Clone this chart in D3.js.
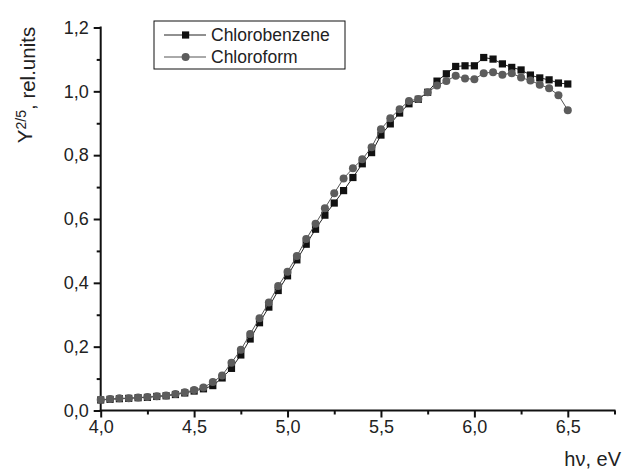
<!DOCTYPE html>
<html>
<head>
<meta charset="utf-8">
<script src="https://cdn.jsdelivr.net/npm/d3@7"></script>
<style>
  body { margin: 0; background: #fff; }
</style>
</head>
<body>
<div id="chart"></div>
<script>
// photon energy, eV
let energy = [
  4.00, 4.05, 4.10, 4.15, 4.20, 4.25, 4.30, 4.35, 4.40, 4.45,
  4.50, 4.55, 4.60, 4.65, 4.70, 4.75, 4.80, 4.85, 4.90, 4.95,
  5.00, 5.05, 5.10, 5.15, 5.20, 5.25, 5.30, 5.35, 5.40, 5.45,
  5.50, 5.55, 5.60, 5.65, 5.70, 5.75, 5.80, 5.85, 5.90, 5.95,
  6.00, 6.05, 6.10, 6.15, 6.20, 6.25, 6.30, 6.35, 6.40, 6.45,
  6.50
];

let chlorobenzene = [
  0.033, 0.035, 0.037, 0.038, 0.040, 0.041, 0.044, 0.046, 0.050, 0.055,
  0.061, 0.068, 0.078, 0.102, 0.132, 0.174, 0.224, 0.275, 0.324, 0.376,
  0.422, 0.472, 0.521, 0.568, 0.612, 0.650, 0.689, 0.730, 0.773, 0.808,
  0.863, 0.898, 0.932, 0.961, 0.975, 0.997, 1.032, 1.055, 1.078, 1.080,
  1.080, 1.106, 1.101, 1.086, 1.075, 1.067, 1.051, 1.042, 1.036, 1.026,
  1.023
];

let chloroform = [
  0.034, 0.036, 0.038, 0.038, 0.041, 0.042, 0.045, 0.047, 0.052, 0.057,
  0.064, 0.072, 0.089, 0.110, 0.150, 0.190, 0.240, 0.289, 0.338, 0.390,
  0.435, 0.484, 0.537, 0.585, 0.634, 0.681, 0.727, 0.759, 0.787, 0.825,
  0.881, 0.916, 0.944, 0.970, 0.976, 0.997, 1.018, 1.032, 1.049, 1.040,
  1.038, 1.057, 1.060, 1.052, 1.057, 1.043, 1.034, 1.021, 1.010, 0.988,
  0.941
];

let xTicks = [4.0, 4.5, 5.0, 5.5, 6.0, 6.5];
let xMinor = [4.25, 4.75, 5.25, 5.75, 6.25, 6.75];
let yTicks = [0.0, 0.2, 0.4, 0.6, 0.8, 1.0, 1.2];
let yMinor = [0.1, 0.3, 0.5, 0.7, 0.9, 1.1];

let seriesNames = ['Chlorobenzene', 'Chloroform'];

let width = 632,
  height = 471;

let font = '"Liberation Sans", Arial, sans-serif';

// comma as decimal separator
let fmt = d3.formatLocale({decimal: ',', thousands: ' ', grouping: [3], currency: ['', '']}).format('.1f');

let x = d3.scaleLinear().domain([4, 6.75]).range([100.7, 614.5]);
let y = d3.scaleLinear().domain([0, 1.2]).range([410.5, 27.5]);

function chart() {
  const svg = d3.select('#chart').append('svg')
    .attr('width', width)
    .attr('height', height)
    .style('font-family', font);

  // axes
  const gx = svg.append('g').attr('transform', `translate(0,${y(0)})`);
  gx.call(d3.axisBottom(x).tickValues(xTicks).tickFormat(fmt).tickSize(7).tickSizeOuter(0).tickPadding(3));
  gx.append('g').call(d3.axisBottom(x).tickValues(xMinor).tickFormat('').tickSize(4).tickSizeOuter(0))
    .select('.domain').remove();

  const gy = svg.append('g').attr('transform', `translate(${x(4)},0)`);
  gy.call(d3.axisLeft(y).tickValues(yTicks).tickFormat(fmt).tickSize(7).tickSizeOuter(0).tickPadding(5));
  gy.append('g').call(d3.axisLeft(y).tickValues(yMinor).tickFormat('').tickSize(4).tickSizeOuter(0))
    .select('.domain').remove();

  svg.selectAll('.domain, .tick line').attr('stroke', '#111').attr('stroke-width', 2);
  svg.selectAll('.tick text')
    .attr('fill', '#222')
    .style('font-size', '18px')
    .style('font-family', font);
  // close the corner
  gx.select('.domain').attr('d', `M${x(4) - 1},0H${x(6.75) + 1}`);
  gy.select('.domain').attr('d', `M0,${y(0) + 1}V${y(1.2) - 1}`);

  // axis titles
  svg.append('text')
    .attr('x', 621)
    .attr('y', 466)
    .attr('text-anchor', 'end')
    .attr('fill', '#222')
    .style('font-size', '20px')
    .text('h\u03bd, eV');

  const yl = svg.append('text')
    .attr('transform', 'translate(32,85) rotate(-90)')
    .attr('text-anchor', 'middle')
    .attr('fill', '#222')
    .style('font-size', '20.5px');
  yl.append('tspan').text('Y');
  yl.append('tspan').attr('dy', '-0.45em').style('font-size', '14px').text('2/5');
  yl.append('tspan').attr('dy', '0.45em').text(', rel.units');

  // series
  const pts = s => energy.map((e, i) => [e, s[i]]);
  const line = d3.line().x(d => x(d[0])).y(d => y(d[1]));

  svg.append('path')
    .datum(pts(chlorobenzene))
    .attr('fill', 'none')
    .attr('stroke', '#222')
    .attr('stroke-width', 1)
    .attr('d', line);

  svg.append('g').selectAll('rect')
    .data(pts(chlorobenzene))
    .enter().append('rect')
      .attr('x', d => x(d[0]) - 3.6)
      .attr('y', d => y(d[1]) - 3.6)
      .attr('width', 7.2)
      .attr('height', 7.2)
      .attr('fill', '#111');

  svg.append('path')
    .datum(pts(chloroform))
    .attr('fill', 'none')
    .attr('stroke', '#555')
    .attr('stroke-width', 1)
    .attr('d', line);

  svg.append('g').selectAll('circle')
    .data(pts(chloroform))
    .enter().append('circle')
      .attr('cx', d => x(d[0]))
      .attr('cy', d => y(d[1]))
      .attr('r', 4)
      .attr('fill', '#5c5c5c');

  // legend
  const lg = svg.append('g').attr('transform', 'translate(154,21)');
  lg.append('rect')
    .attr('width', 191)
    .attr('height', 48)
    .attr('fill', '#fff')
    .attr('stroke', '#111')
    .attr('stroke-width', 1);

  const item = lg.selectAll('g.item')
    .data(seriesNames)
    .enter().append('g')
      .attr('class', 'item')
      .attr('transform', (d, i) => `translate(0,${14 + i * 22})`);

  item.append('line')
    .attr('x1', 10).attr('x2', 52)
    .attr('stroke', (d, i) => i ? '#555' : '#222')
    .attr('stroke-width', 1);

  item.filter((d, i) => i === 0).append('rect')
    .attr('x', 28).attr('y', -3.6).attr('width', 7.2).attr('height', 7.2)
    .attr('fill', '#111');
  item.filter((d, i) => i === 1).append('circle')
    .attr('cx', 31.6).attr('r', 4).attr('fill', '#5c5c5c');

  item.append('text')
    .attr('x', 57)
    .attr('dy', '0.35em')
    .attr('fill', '#222')
    .style('font-size', '17.5px')
    .text(d => d);

  return svg.node();
}

chart();
</script>
</body>
</html>
